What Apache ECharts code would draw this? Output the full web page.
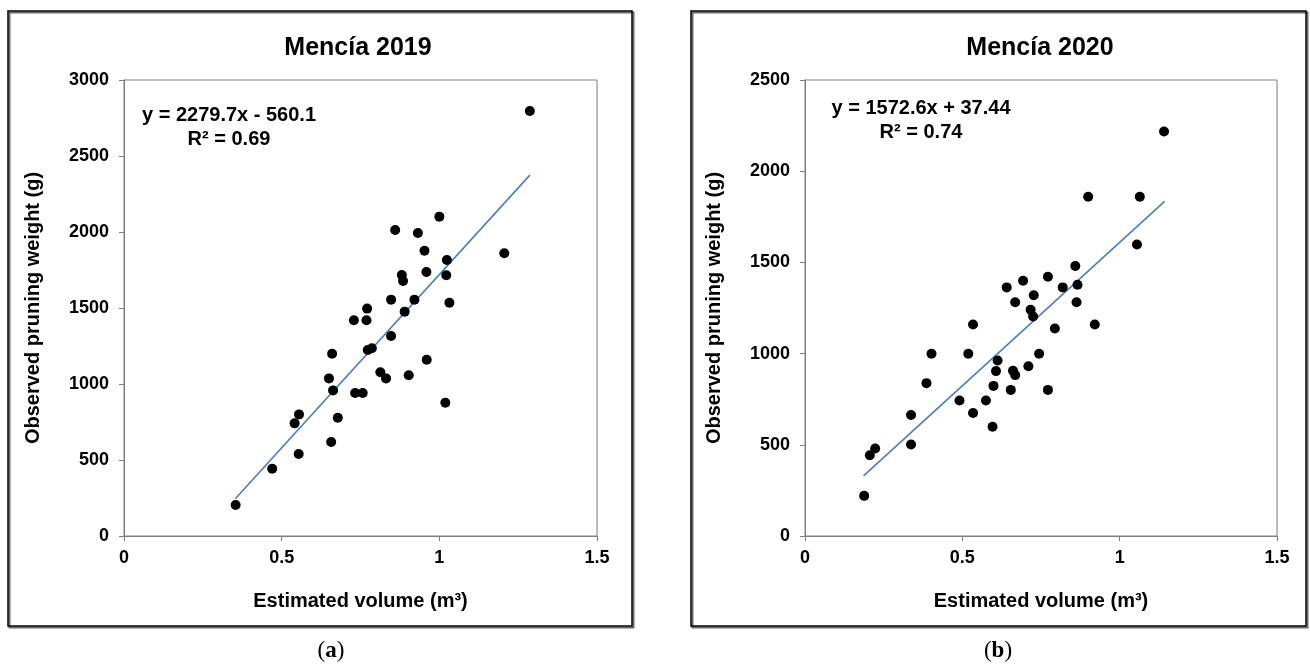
<!DOCTYPE html>
<html>
<head>
<meta charset="utf-8">
<script src="https://cdn.jsdelivr.net/npm/echarts@6/dist/echarts.min.js"></script>
<style>
html,body{margin:0;padding:0;background:#fff;}
#chart{width:1310px;height:666px;}
</style>
</head>
<body>
<div id="chart"></div>
<script>
// ---- Data ----
const titles = ['Mencía 2019', 'Mencía 2020'];
const captions = ['a', 'b'];
const equations = ['y = 2279.7x - 560.1', 'y = 1572.6x + 37.44'];
const r2Labels = ['R² = 0.69', 'R² = 0.74'];
const xTicks = [0, 0.5, 1, 1.5];
const yMaxA = 3000;
const yMaxB = 2500;

// Mencía 2019 (a)
const volA = [0.354,0.470,0.554,0.541,0.555,0.657,0.678,0.650,0.663,0.660,0.733,0.757,0.729,0.769,0.771,0.773,0.786,0.813,0.831,0.847,0.847,0.881,0.885,0.890,0.903,0.921,0.960,0.959,0.953,1.024,1.022,1.032,1.019,1.206,0.860,0.932,1.000,1.287];
const weightA = [204,443,539,741,800,618,778,1037,958,1199,941,941,1419,1419,1496,1224,1235,1077,1037,1316,1555,1717,1678,1476,1057,1555,1160,1737,1877,1816,1715,1535,877,1860,2013,1993,2101,2796];
const trendA = [[0.353, 245], [1.287, 2374]];

// Mencía 2020 (b)
const volB = [0.188,0.206,0.223,0.337,0.337,0.386,0.402,0.491,0.519,0.534,0.534,0.575,0.596,0.599,0.607,0.612,0.641,0.654,0.661,0.668,0.668,0.693,0.710,0.717,0.725,0.727,0.744,0.772,0.772,0.794,0.819,0.859,0.866,0.863,0.921,0.900,1.064,1.055,1.141];
const weightB = [220,443,480,502,663,838,999,743,999,674,1160,743,599,823,904,962,1363,801,906,882,1282,1399,931,1240,1203,1320,999,801,1421,1138,1363,1480,1377,1282,1160,1860,1860,1598,2218];
const trendB = [[0.186, 330], [1.143, 1835]];

// ---- Chart ----
const FONT = 'Liberation Sans, Arial, sans-serif';
const zip = (xs, ys) => xs.map((x, i) => [x, ys[i]]);

const grids = [
  {left: 124, top: 80, width: 473, height: 456},
  {left: 805, top: 80, width: 472, height: 456}
];

function xAxisCfg(idx) {
  return {
    gridIndex: idx, type: 'value', min: xTicks[0], max: xTicks[xTicks.length - 1], interval: 0.5,
    name: 'Estimated volume (m³)', nameLocation: 'middle', nameGap: 55,
    nameTextStyle: {fontFamily: FONT, fontWeight: 'bold', fontSize: 20, color: '#000'},
    axisLine: {show: true, onZero: false, lineStyle: {color: '#7f7f7f', width: 1}},
    axisTick: {show: true, inside: false, length: 5, lineStyle: {color: '#7f7f7f'}},
    axisLabel: {fontFamily: FONT, fontWeight: 'bold', fontSize: 18, color: '#000', margin: 13,
      formatter: v => String(v)},
    splitLine: {show: false}
  };
}
function yAxisCfg(idx, max) {
  return {
    gridIndex: idx, type: 'value', min: 0, max: max, interval: 500,
    name: 'Observed pruning weight (g)', nameLocation: 'middle', nameGap: 81,
    nameTextStyle: {fontFamily: FONT, fontWeight: 'bold', fontSize: 20, color: '#000'},
    axisLine: {show: true, onZero: false, lineStyle: {color: '#7f7f7f', width: 1}},
    axisTick: {show: true, inside: false, length: 5, lineStyle: {color: '#7f7f7f'}},
    axisLabel: {fontFamily: FONT, fontWeight: 'bold', fontSize: 18, color: '#000', margin: 15,
      formatter: v => String(v)},
    splitLine: {show: false}
  };
}

const panels = [
  {x: 8, y: 11, w: 624, h: 615, cx: 358, capX: 331, eqX: 229, eqY: 115, r2Y: 139},
  {x: 691, y: 11, w: 615, h: 615, cx: 1040, capX: 998, eqX: 921, eqY: 108, r2Y: 132}
];

const graphic = [];
panels.forEach((p, i) => {
  graphic.push({type: 'rect', z: 0, shape: {x: p.x + 1.5, y: p.y + 1.5, width: p.w, height: p.h},
    style: {fill: 'none', stroke: '#6a6a6a', lineWidth: 2}});
  graphic.push({type: 'rect', z: 1, shape: {x: p.x, y: p.y, width: p.w, height: p.h},
    style: {fill: 'none', stroke: '#000', lineWidth: 1.5}});
  graphic.push({type: 'text', z: 5, x: p.cx, y: 48,
    style: {text: titles[i], fontFamily: FONT, fontWeight: 'bold', fontSize: 25, fill: '#000',
      textAlign: 'center', textVerticalAlign: 'middle'}});
  graphic.push({type: 'text', z: 5, x: p.eqX, y: p.eqY,
    style: {text: equations[i], fontFamily: FONT, fontWeight: 'bold', fontSize: 20, fill: '#000',
      textAlign: 'center', textVerticalAlign: 'middle'}});
  graphic.push({type: 'text', z: 5, x: p.eqX, y: p.r2Y,
    style: {text: r2Labels[i], fontFamily: FONT, fontWeight: 'bold', fontSize: 20, fill: '#000',
      textAlign: 'center', textVerticalAlign: 'middle'}});
  graphic.push({type: 'text', z: 5, x: p.capX, y: 651,
    style: {text: '{p|(}{b|' + captions[i] + '}{p|)}', textAlign: 'center', textVerticalAlign: 'middle',
      rich: {
        p: {fontFamily: 'Liberation Serif, serif', fontSize: 23, fill: '#000', color: '#000'},
        b: {fontFamily: 'Liberation Serif, serif', fontSize: 23, fontWeight: 'bold', fill: '#000', color: '#000'}
      }}});
});

const chart = echarts.init(document.getElementById('chart'), null, {renderer: 'canvas'});
chart.setOption({
  animation: false,
  backgroundColor: '#fff',
  graphic: {elements: graphic},
  grid: grids.map(g => Object.assign({show: true, borderColor: '#7f7f7f', borderWidth: 1, backgroundColor: 'transparent'}, g)),
  xAxis: [xAxisCfg(0), xAxisCfg(1)],
  yAxis: [yAxisCfg(0, yMaxA), yAxisCfg(1, yMaxB)],
  series: [
    {type: 'line', xAxisIndex: 0, yAxisIndex: 0, data: trendA, showSymbol: false, symbol: 'none',
      lineStyle: {color: '#4a7ebb', width: 1.6}, z: 3},
    {type: 'scatter', xAxisIndex: 0, yAxisIndex: 0, data: zip(volA, weightA), symbolSize: 10,
      itemStyle: {color: '#000', opacity: 1}, z: 4},
    {type: 'line', xAxisIndex: 1, yAxisIndex: 1, data: trendB, showSymbol: false, symbol: 'none',
      lineStyle: {color: '#4a7ebb', width: 1.6}, z: 3},
    {type: 'scatter', xAxisIndex: 1, yAxisIndex: 1, data: zip(volB, weightB), symbolSize: 10,
      itemStyle: {color: '#000', opacity: 1}, z: 4}
  ]
});
</script>
</body>
</html>
